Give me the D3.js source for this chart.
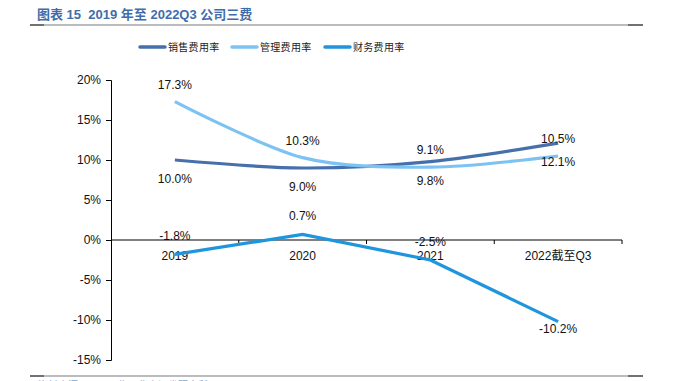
<!DOCTYPE html>
<html>
<head>
<meta charset="utf-8">
<script src="https://cdn.jsdelivr.net/npm/d3@7"></script>
<style>
  html, body { margin: 0; padding: 0; background: #fff; }
  svg { display: block; }
</style>
</head>
<body>
<div id="chart"></div>
<script>
(function () {
  "use strict";

  var FONT = "'Liberation Sans', Arial, sans-serif";
  var FONT_CJK = "'Noto Sans CJK SC', sans-serif";

  // data
  var categories = ["2019", "2020", "2021", "2022截至Q3"];
  var salesRate = [10.0, 9.0, 9.8, 12.1];      // 销售费用率
  var adminRate = [17.3, 10.3, 9.1, 10.5];     // 管理费用率
  var financeRate = [-1.8, 0.7, -2.5, -10.2];  // 财务费用率
  var seriesNames = ["销售费用率", "管理费用率", "财务费用率"];
  var yTicks = [-15, -10, -5, 0, 5, 10, 15, 20];

  var W = 673, H = 381;
  var M = { left: 111, right: 51, top: 80, bottom: 21 };
  var plotW = W - M.left - M.right;
  var plotH = H - M.top - M.bottom;

  var svg = d3.select("#chart").append("svg")
    .attr("width", W).attr("height", H);

  // Title and rules
  svg.append("text").attr("x", 37).attr("y", 19)
    .attr("fill", "#3f6dab").attr("font-size", "13px").attr("font-weight", "bold")
    .attr("font-family", "'Liberation Sans', 'Noto Sans CJK SC', sans-serif")
    .style("white-space", "pre")
    .text("图表 15  2019 年至 2022Q3 公司三费");

  [25, 376].forEach(function (y) {
    svg.append("line").attr("x1", 30).attr("x2", 643).attr("y1", y).attr("y2", y)
      .attr("stroke", "#a6a6a6").attr("stroke-width", 1.5);
    svg.append("line").attr("x1", 30).attr("x2", 44).attr("y1", y).attr("y2", y)
      .attr("stroke", "#595959").attr("stroke-width", 1.5);
    svg.append("line").attr("x1", 628).attr("x2", 643).attr("y1", y).attr("y2", y)
      .attr("stroke", "#595959").attr("stroke-width", 1.5);
  });

  // source line, cut by the bottom edge as in the original
  svg.append("text").attr("x", 38).attr("y", 389)
    .attr("fill", "#7aa6d6").attr("font-size", "10px").attr("font-family", FONT_CJK)
    .text("资料来源：公司公告，华安证券研究所");

  var x = d3.scaleBand().domain(categories).range([M.left, M.left + plotW]);
  var y = d3.scaleLinear().domain([-15, 20]).range([M.top + plotH, M.top]);

  var series = [
    { name: seriesNames[0], values: salesRate, color: "#4670ab", curve: d3.curveCardinal.tension(0.1) },
    { name: seriesNames[1], values: adminRate, color: "#7cc3f4", curve: d3.curveCardinal.tension(0.1) },
    { name: seriesNames[2], values: financeRate, color: "#1e95dd", curve: d3.curveLinear }
  ];

  // Legend
  var legX = [140, 232, 325];
  series.forEach(function (s, i) {
    var g = svg.append("g").attr("transform", "translate(" + legX[i] + ",47)");
    g.append("line").attr("x1", 0).attr("x2", 25).attr("y1", 0).attr("y2", 0)
      .attr("stroke", s.color).attr("stroke-width", 3.5).attr("stroke-linecap", "round");
    g.append("text").attr("x", 28).attr("y", 4)
      .attr("fill", "#222").attr("font-size", "10px").attr("letter-spacing", "0.3px")
      .attr("font-family", FONT_CJK)
      .text(s.name);
  });

  // Y axis
  var yAxis = d3.axisLeft(y).tickValues(yTicks).tickSize(5).tickSizeOuter(5)
    .tickFormat(function (d) { return d + "%"; });
  var gy = svg.append("g").attr("transform", "translate(" + M.left + ",0)").call(yAxis);
  gy.select(".domain").attr("stroke", "#000");
  gy.selectAll(".tick line").attr("stroke", "#000");
  gy.selectAll(".tick text").attr("font-size", "12px").attr("font-family", FONT)
    .attr("fill", "#111").attr("x", -10);

  // X axis at zero
  var y0 = y(0);
  svg.append("line").attr("x1", M.left).attr("x2", M.left + plotW)
    .attr("y1", y0).attr("y2", y0).attr("stroke", "#000");
  categories.forEach(function (c) {
    var xr = x(c) + x.bandwidth();
    svg.append("line").attr("x1", xr).attr("x2", xr)
      .attr("y1", y0).attr("y2", y0 + 4).attr("stroke", "#000");
    svg.append("text").attr("x", x(c) + x.bandwidth() / 2).attr("y", y0 + 20)
      .attr("text-anchor", "middle").attr("fill", "#111").attr("font-size", "12px")
      .attr("font-family", "'Liberation Sans', 'Noto Sans CJK SC', sans-serif")
      .text(c);
  });

  var cx = function (i) { return x(categories[i]) + x.bandwidth() / 2; };

  // Lines
  series.forEach(function (s) {
    var line = d3.line()
      .x(function (d, i) { return cx(i); })
      .y(function (d) { return y(d); })
      .curve(s.curve);
    svg.append("path").datum(s.values).attr("d", line)
      .attr("fill", "none").attr("stroke", s.color).attr("stroke-width", 3.2);
  });

  // Data labels: admin above, sales below, finance above (last one below)
  function labelDy(si, i) {
    if (si === 0) return 23;
    if (si === 1) return -13;
    if (si === 2 && i === series[2].values.length - 1) return 11;
    return -14;
  }
  series.forEach(function (s, si) {
    s.values.forEach(function (v, i) {
      svg.append("text").attr("x", cx(i)).attr("y", y(v) + labelDy(si, i))
        .attr("text-anchor", "middle").attr("fill", "#111").attr("font-size", "12px")
        .attr("font-family", FONT).text(v.toFixed(1) + "%");
    });
  });
})();
</script>
</body>
</html>
